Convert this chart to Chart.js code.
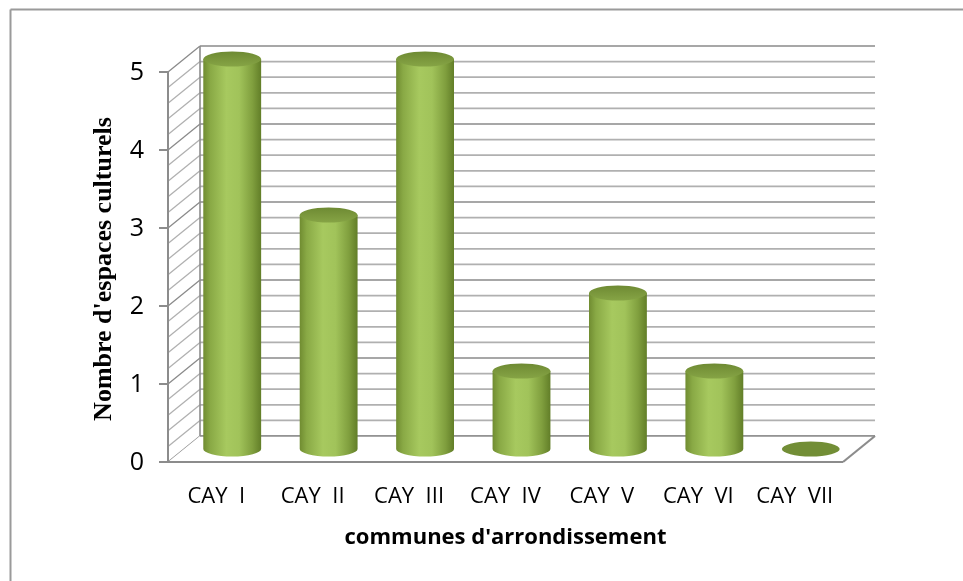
<!DOCTYPE html>
<html>
<head>
<meta charset="utf-8">
<script src="https://cdn.jsdelivr.net/npm/chart.js@4.4.0/dist/chart.umd.min.js"></script>
<style>
  html, body { margin: 0; padding: 0; background: #fff; }
  #cadre { width: 963px; height: 581px; position: relative; }
</style>
</head>
<body>
<div id="cadre"><canvas id="graphique"></canvas></div>
<script>
// Données du graphique
const communes = ["CAY  I", "CAY  II", "CAY  III", "CAY  IV", "CAY  V", "CAY  VI", "CAY  VII"];
const espaces = [5, 3, 5, 1, 2, 1, 0];
const graduations = [0, 1, 2, 3, 4, 5];
const titreX = "communes d'arrondissement";
const titreY = "Nombre d'espaces culturels";

// profondeur du décor 3D (façon Excel)
const PROF_X = 32, PROF_Y = -26;

const ligne = (ctx, x1, y1, x2, y2, couleur, ep) => {
  ctx.beginPath();
  ctx.moveTo(x1, y1);
  ctx.lineTo(x2, y2);
  ctx.strokeStyle = couleur;
  ctx.lineWidth = ep;
  ctx.stroke();
};

const decor3d = {
  id: "decor3d",
  beforeDatasetsDraw(chart) {
    const { ctx, chartArea: a, scales } = chart;
    const y = scales.y;
    ctx.save();

    // bordure du graphique (seuls haut et gauche visibles)
    ligne(ctx, 10.5, 9.5, 963, 9.5, "#9a9a9a", 2);
    ligne(ctx, 10.5, 9.5, 10.5, 581, "#9a9a9a", 2);

    // quadrillage : mur du fond + mur de gauche, tous les 0,2
    for (let k = 0; k <= 25; k++) {
      const v = k / 5;
      const py = y.getPixelForValue(v);
      const majeur = k % 5 === 0;
      const coul = majeur ? "#8a8a8a" : "#b0b0b0";
      ligne(ctx, a.left + PROF_X, py + PROF_Y, a.right + PROF_X, py + PROF_Y, coul, 1.7);
      ligne(ctx, a.left, py, a.left + PROF_X, py + PROF_Y, coul, 1.3);
    }
    // arêtes des murs
    ligne(ctx, a.left + PROF_X, a.top + PROF_Y, a.left + PROF_X, a.bottom + PROF_Y, "#8c8c8c", 1.6);
    ligne(ctx, a.left, a.top, a.left, a.bottom, "#8c8c8c", 2);

    // plancher
    ctx.beginPath();
    ctx.moveTo(a.left, a.bottom);
    ctx.lineTo(a.right, a.bottom);
    ctx.lineTo(a.right + PROF_X, a.bottom + PROF_Y);
    ctx.lineTo(a.left + PROF_X, a.bottom + PROF_Y);
    ctx.closePath();
    ctx.fillStyle = "#ffffff";
    ctx.fill();
    ligne(ctx, a.left + PROF_X, a.bottom + PROF_Y, a.right + PROF_X, a.bottom + PROF_Y, "#8c8c8c", 1.6);
    ligne(ctx, a.left, a.bottom, a.right, a.bottom, "#8c8c8c", 2.2);
    ligne(ctx, a.right, a.bottom, a.right + PROF_X, a.bottom + PROF_Y, "#8c8c8c", 2.2);

    // graduations de l'axe vertical
    ctx.fillStyle = "#000";
    ctx.font = "25px 'Open Sans'";
    ctx.textAlign = "right";
    ctx.textBaseline = "middle";
    graduations.forEach(g => {
      const py = y.getPixelForValue(g);
      ligne(ctx, a.left - 9, py, a.left, py, "#8c8c8c", 2);
      ctx.fillText(String(g), a.left - 24, py + 1);
    });

    // étiquettes des catégories
    ctx.font = "22px 'Open Sans'";
    ctx.textAlign = "center";
    communes.forEach((c, i) => {
      ctx.fillText(c, scales.x.getPixelForValue(i), a.bottom + 35);
    });

    // titres des axes
    ctx.font = "bold 22px 'Open Sans'";
    ctx.fillText(titreX, (a.left + a.right) / 2, a.bottom + 76);
    ctx.save();
    ctx.translate(104, (a.top + a.bottom) / 2 + 2);
    ctx.rotate(-Math.PI / 2);
    ctx.font = "bold 26px 'Liberation Serif'";
    ctx.fillText(titreY, 0, 0);
    ctx.restore();

    ctx.restore();
  },
  afterDatasetsDraw(chart) {
    const { ctx } = chart;
    const meta = chart.getDatasetMeta(0);
    ctx.save();
    meta.data.forEach(bar => {
      const cx = bar.x + PROF_X / 2;
      const rx = bar.width / 2;
      const ry = 7.5;
      const haut = bar.y + PROF_Y / 2;
      const bas = bar.base + PROF_Y / 2;

      if (bas - haut > 0.5) {
        const grad = ctx.createLinearGradient(cx - rx, 0, cx + rx, 0);
        grad.addColorStop(0, "#708c31");
        grad.addColorStop(0.12, "#89a945");
        grad.addColorStop(0.4, "#a7c95f");
        grad.addColorStop(0.62, "#a1c35a");
        grad.addColorStop(0.85, "#809f3e");
        grad.addColorStop(1, "#627e28");
        ctx.beginPath();
        ctx.moveTo(cx - rx, haut);
        ctx.lineTo(cx - rx, bas);
        ctx.ellipse(cx, bas, rx, ry, 0, Math.PI, 0, true);
        ctx.lineTo(cx + rx, haut);
        ctx.closePath();
        ctx.fillStyle = grad;
        ctx.fill();
      }
      // dessus du cylindre
      const gradHaut = ctx.createLinearGradient(0, haut - ry, 0, haut + ry);
      gradHaut.addColorStop(0, "#6e8a33");
      gradHaut.addColorStop(1, "#86a445");
      ctx.beginPath();
      ctx.ellipse(cx, haut, rx, ry, 0, 0, Math.PI * 2);
      ctx.fillStyle = bas - haut > 0.5 ? gradHaut : "#728e36";
      ctx.fill();
    });
    ctx.restore();
  }
};

new Chart(document.getElementById("graphique"), {
  type: "bar",
  data: {
    labels: communes,
    datasets: [{
      label: titreY,
      data: espaces,
      backgroundColor: "rgba(0,0,0,0)",
      borderWidth: 0,
      barPercentage: 0.6,
      categoryPercentage: 1
    }]
  },
  options: {
    responsive: true,
    maintainAspectRatio: false,
    animation: false,
    layout: { padding: { left: 168, right: 120, top: 72, bottom: 119 } },
    plugins: { legend: { display: false }, tooltip: { enabled: false } },
    scales: {
      x: { display: false, offset: true },
      y: { display: false, min: 0, max: 5 }
    }
  },
  plugins: [decor3d]
});
</script>
</body>
</html>
